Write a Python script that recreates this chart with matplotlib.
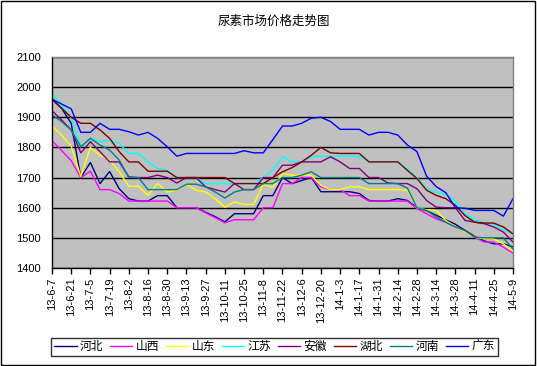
import matplotlib
matplotlib.use('Agg')
import matplotlib.pyplot as plt
from matplotlib.patches import Rectangle

plt.rcParams['font.family'] = ['Liberation Sans', 'Noto Sans CJK SC']

# weekly prices, 13-6-7 .. 14-5-9 (49 weeks)
tick_labels = ['13-6-7', '13-6-21', '13-7-5', '13-7-19', '13-8-2', '13-8-16', '13-8-30',
               '13-9-13', '13-9-27', '13-10-11', '13-10-25', '13-11-8', '13-11-22',
               '13-12-6', '13-12-20', '14-1-3', '14-1-17', '14-1-31', '14-2-14',
               '14-2-28', '14-3-14', '14-3-28', '14-4-11', '14-4-25', '14-5-9']

hebei = [1960, 1930, 1880, 1700, 1750, 1680, 1720, 1663, 1630, 1622, 1622, 1640, 1640,
         1600, 1600, 1600, 1585, 1570, 1553, 1580, 1580, 1580, 1640, 1640, 1700, 1680,
         1690, 1700, 1653, 1653, 1653, 1653, 1647, 1624, 1622, 1622, 1630, 1624, 1600,
         1590, 1575, 1560, 1545, 1525, 1505, 1490, 1480, 1480, 1470]
shanxi = [1822, 1790, 1756, 1700, 1721, 1660, 1660, 1647, 1622, 1622, 1622, 1622, 1622,
          1600, 1600, 1600, 1583, 1567, 1550, 1560, 1560, 1560, 1600, 1600, 1680, 1680,
          1700, 1700, 1669, 1660, 1660, 1640, 1640, 1622, 1622, 1622, 1622, 1622, 1597,
          1580, 1563, 1552, 1536, 1519, 1502, 1486, 1486, 1469, 1449]
shandong = [1871, 1841, 1804, 1704, 1800, 1774, 1758, 1719, 1671, 1671, 1641, 1680, 1652,
            1658, 1678, 1658, 1652, 1630, 1602, 1619, 1611, 1611, 1678, 1667, 1713, 1708,
            1708, 1708, 1674, 1660, 1660, 1669, 1669, 1660, 1660, 1660, 1660, 1658, 1600,
            1593, 1591, 1558, 1536, 1519, 1502, 1497, 1497, 1480, 1456]
jiangsu = [1982, 1940, 1898, 1802, 1832, 1819, 1824, 1813, 1780, 1780, 1752, 1730, 1724,
           1700, 1700, 1700, 1680, 1680, 1680, 1680, 1680, 1680, 1700, 1724, 1769, 1752,
           1752, 1769, 1771, 1771, 1771, 1771, 1771, 1752, 1752, 1752, 1752, 1730, 1700,
           1663, 1652, 1644, 1622, 1580, 1560, 1550, 1545, 1527, 1515]
anhui = [1922, 1891, 1858, 1782, 1819, 1786, 1752, 1752, 1702, 1700, 1700, 1708, 1700,
         1682, 1700, 1700, 1669, 1660, 1652, 1680, 1660, 1660, 1700, 1700, 1741, 1741,
         1752, 1752, 1752, 1769, 1752, 1730, 1730, 1700, 1700, 1682, 1680, 1680, 1663,
         1624, 1602, 1600, 1600, 1558, 1552, 1547, 1536, 1519, 1486]
hubei = [1960, 1930, 1900, 1880, 1880, 1858, 1830, 1786, 1752, 1752, 1721, 1721, 1721,
         1700, 1700, 1700, 1700, 1700, 1700, 1680, 1680, 1680, 1680, 1700, 1719, 1733,
         1752, 1774, 1800, 1782, 1780, 1780, 1780, 1752, 1752, 1752, 1752, 1724, 1697,
         1658, 1641, 1630, 1608, 1574, 1552, 1549, 1549, 1536, 1513]
henan = [1908, 1886, 1858, 1802, 1830, 1808, 1791, 1758, 1700, 1700, 1660, 1660, 1660,
         1660, 1678, 1678, 1669, 1652, 1632, 1652, 1660, 1660, 1680, 1680, 1700, 1700,
         1708, 1719, 1700, 1700, 1700, 1700, 1700, 1680, 1680, 1680, 1680, 1665, 1600,
         1591, 1569, 1552, 1536, 1524, 1502, 1500, 1500, 1500, 1463]
guangdong = [1960, 1944, 1928, 1850, 1850, 1880, 1860, 1860, 1852, 1841, 1850, 1830, 1802,
             1771, 1780, 1780, 1780, 1780, 1780, 1780, 1789, 1782, 1782, 1826, 1871, 1871,
             1880, 1897, 1900, 1886, 1860, 1860, 1860, 1841, 1850, 1850, 1841, 1808, 1786,
             1705, 1670, 1650, 1600, 1598, 1591, 1591, 1591, 1572, 1630]

names = ['河北', '山西', '山东', '江苏', '安徽', '湖北', '河南', '广东']
series = [hebei, shanxi, shandong, jiangsu, anhui, hubei, henan, guangdong]
colors = ['#000080', '#FF00FF', '#FFFF00', '#00FFFF', '#800080', '#800000', '#008080', '#0000FF']

fig = plt.figure(figsize=(5.37, 3.66), dpi=100)
ax = fig.add_axes([0.0968, 0.2678, 0.8585, 0.5765])
ax.set_facecolor('#C0C0C0')

x = list(range(len(hebei)))
lines = []
for name, vals, c in zip(names, series, colors):
    ln, = ax.plot(x, vals, color=c, lw=1, label=name)
    lines.append(ln)

ax.set_xlim(0, len(x) - 1)
ax.set_ylim(1400, 2100)
ax.set_yticks(range(1400, 2101, 100))
ax.yaxis.grid(True, color='black', lw=1)
ax.set_axisbelow(True)
ax.tick_params(axis='y', length=0, pad=8, labelsize=8)
ax.set_xticks(x[::2])
ax.set_xticklabels(tick_labels, rotation=90, fontsize=8)
ax.tick_params(axis='x', length=4, direction='out', pad=3, width=1)

for s in ['left', 'bottom']:
    ax.spines[s].set_color('black')
    ax.spines[s].set_linewidth(1)
for s in ['top', 'right']:
    ax.spines[s].set_color('#808080')
    ax.spines[s].set_linewidth(1)

fig.text(0.51, 0.942, '尿素市场价格走势图', ha='center', va='center', fontsize=9)

leg = fig.legend(lines, names, loc='center', bbox_to_anchor=(0.511, 0.052), ncol=8,
                 fontsize=8.5, frameon=True, fancybox=False, edgecolor='black',
                 handlelength=1.9, handletextpad=0.25, columnspacing=0.6, borderpad=0.25,
                 borderaxespad=0)
leg.get_frame().set_linewidth(1)

fig.patches.append(Rectangle((0.001, 0.002), 0.996, 0.996, transform=fig.transFigure,
                             fill=False, ec='black', lw=1))

fig.savefig('out.png', dpi=100)
